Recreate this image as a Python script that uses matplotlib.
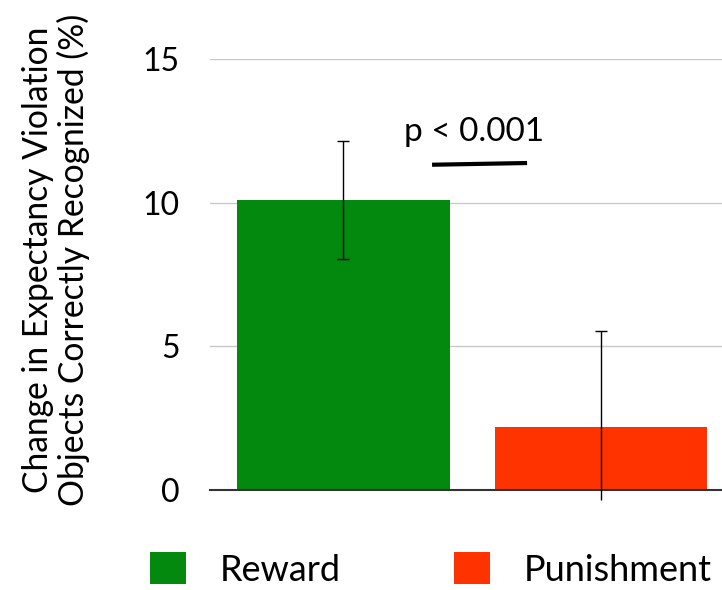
import matplotlib
matplotlib.use("Agg")
import matplotlib.pyplot as plt
from matplotlib.patches import Patch

plt.rcParams["font.family"] = ["Lato", "DejaVu Sans"]

groups = ["Reward", "Punishment"]
means = [10.1, 2.2]
err_up = [2.05, 3.35]
err_down = [2.05, 2.55]
colors = ["#03890e", "#ff3300"]
yticks = [0, 5, 10, 15]
sig_text = "p < 0.001"

fig = plt.figure(figsize=(7.22, 5.90), dpi=100)
ax = fig.add_axes([0.291, 0.1695, 0.709, 0.7305])

x = list(range(len(groups)))
ax.bar(x, means, width=0.827, color=colors, zorder=2)

for i in x:
    eb = ax.errorbar([i], [means[i]], yerr=[[err_down[i]], [err_up[i]]],
                     fmt="none", ecolor="black", elinewidth=1, capsize=4,
                     capthick=1, zorder=3)
    eb[2][0].set_clip_on(False)
# Punishment whisker dips under the baseline without a lower cap
eb[1][0].set_visible(False)

ax.set_xlim(-0.518, 1.47)
ax.set_ylim(0, 15)
ax.set_yticks(yticks)
ax.set_yticklabels([str(t) for t in yticks], fontsize=23)
ax.set_xticks([])
ax.tick_params(axis="y", length=0, pad=22)
ax.yaxis.grid(True, color="#c8c8c8", lw=1, zorder=0)
ax.set_axisbelow(True)
for s in ["top", "right", "left"]:
    ax.spines[s].set_visible(False)
ax.spines["bottom"].set_color("#333333")
ax.spines["bottom"].set_linewidth(1.5)

# significance marker between the bars
ax.plot([0.344, 0.713], [11.32, 11.38], color="black", lw=3,
        solid_capstyle="butt")
ax.text(0.507, 11.95, sig_text, ha="center", va="bottom", fontsize=24)

fig.text(0.078, 1 - 260 / 590,
         "Change in Expectancy Violation\nObjects Correctly Recognized (%)",
         rotation=90, ha="center", va="center", fontsize=24.2,
         multialignment="center", linespacing=1.1)

handles = [Patch(facecolor=c, edgecolor="none") for c in colors]
fig.legend(handles, groups, loc="center left",
           bbox_to_anchor=(150 / 722, 1 - 569.5 / 590), borderpad=0,
           borderaxespad=0, ncol=2, frameon=False, fontsize=26,
           handlelength=1.0, handleheight=0.97, handletextpad=0.92,
           columnspacing=3.15)

fig.savefig("out.png", dpi=100)
